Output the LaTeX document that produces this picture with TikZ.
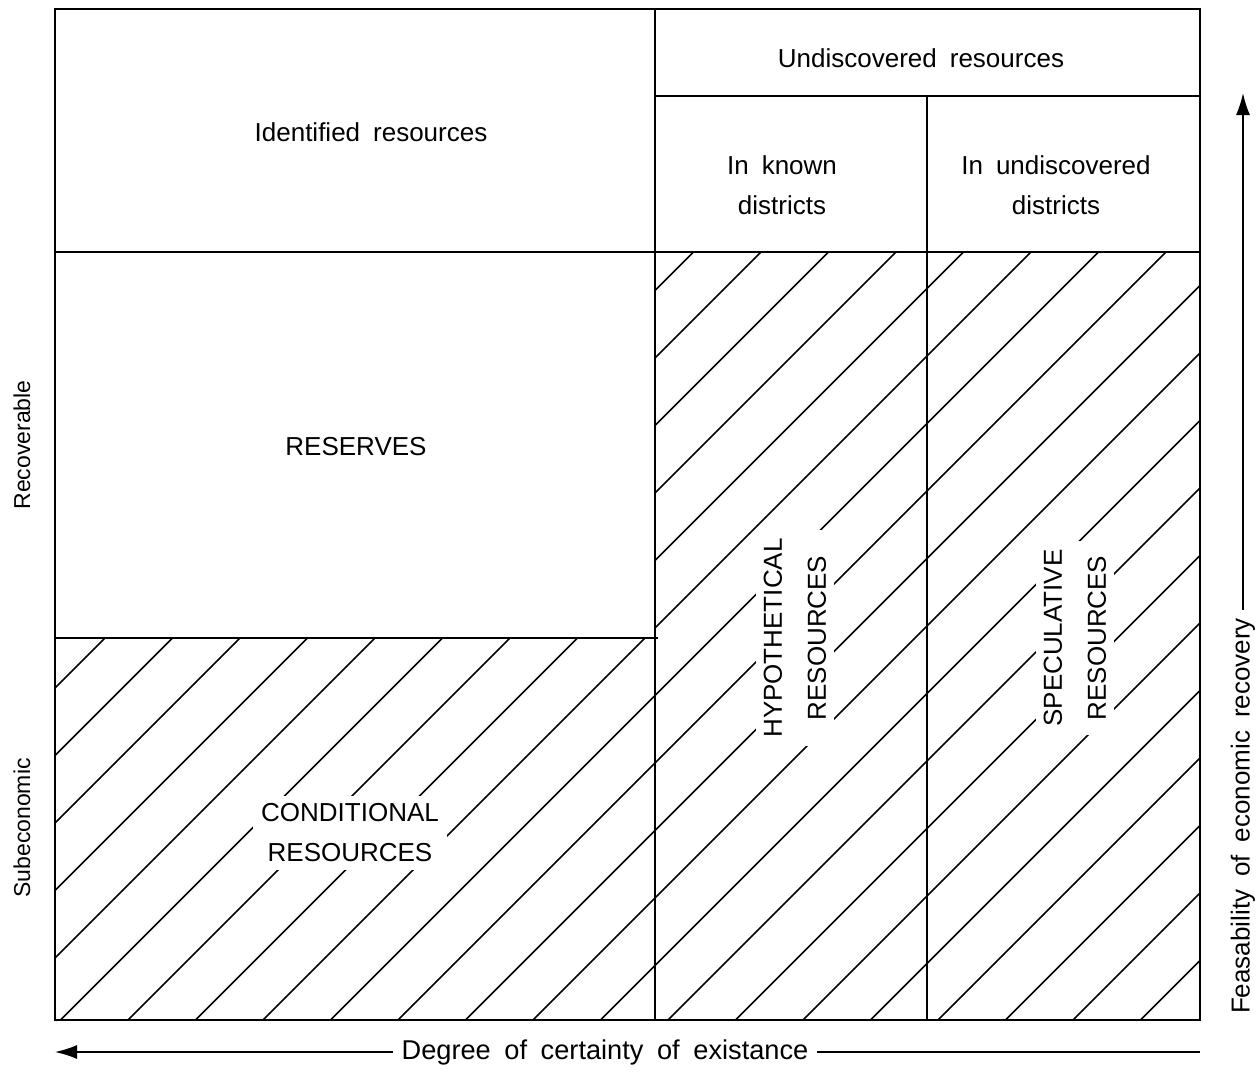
\documentclass[tikz,border=0pt]{standalone}
\usepackage{fontspec}
\setmainfont{Liberation Sans}[WordSpace=1.8]
\usepackage{tikz}
\usetikzlibrary{arrows.meta}

\begin{document}
\begin{tikzpicture}[x=0.5pt,y=0.5pt,yscale=-1,xscale=1,
  frame/.style={line width=1.3pt},
  hatch/.style={line width=0.8pt},
  lbl/.style={inner sep=4pt,align=center,font=\fontsize{13}{20}\selectfont},
  cutlbl/.style={lbl,fill=white},
  sidelbl/.style={rotate=90,inner sep=4pt,font=\fontsize{11.5}{14}\selectfont},
  axisarrow/.style={line width=0.8pt,-{Latex[length=11pt,width=7pt]}}]
\useasboundingbox (0,0) rectangle (1258,1072);

%Hatching: conditional, hypothetical, speculative
\begin{scope}
\clip (55,638) rectangle (655,1020) (655,252) rectangle (1200,1020);
\foreach \k in {-17,...,12} {
  \pgfmathsetmacro{\c}{1418+67.5*\k}
  \draw [hatch] ({\c-1100},1100) -- ({\c+100},-100);
}
\end{scope}

% Text Node
\draw (350,833) node [cutlbl] (conditional) {CONDITIONAL\\RESOURCES};
% Text Node
\draw (795,638) node [cutlbl,rotate=90,font=\fontsize{13}{22}\selectfont] (hypothetical) {HYPOTHETICAL\\RESOURCES};
% Text Node
\draw (1075,638) node [cutlbl,rotate=90,font=\fontsize{13}{22}\selectfont] (speculative) {SPECULATIVE\\RESOURCES};

%Shape: Rectangle
\draw [frame] (55,9) rectangle (1200,1020);
%Straight Lines
\draw [frame] (55,252) -- (1200,252);
\draw [frame] (655,9) -- (655,1020);
\draw [frame] (655,96) -- (1200,96);
\draw [frame] (927,96) -- (927,1020);
\draw [frame] (55,638) -- (658,638);

% Text Node
\draw (371,132) node [lbl] (identified) {Identified resources};
% Text Node
\draw (921,58) node [lbl] (undiscovered) {Undiscovered resources};
% Text Node
\draw (782,185) node [lbl] (known) {In known\\districts};
% Text Node
\draw (1056,185) node [lbl] (undistricts) {In undiscovered\\districts};
% Text Node
\draw (356,447) node [lbl] (reserves) {RESERVES};
% Text Node
\draw (22,445) node [sidelbl] (recoverable) {Recoverable};
% Text Node
\draw (22,828) node [sidelbl] (subeconomic) {Subeconomic};

%Axis: feasability
\draw (1243,816) node [lbl,rotate=90] (feasability) {Feasability of economic recovery};
\coordinate (feastop) at (1243,93);
\draw [axisarrow] (feasability.east) -- (feastop);

%Axis: certainty
\draw (605,1052) node [lbl,font=\fontsize{13.6}{20}\selectfont] (certainty) {Degree of certainty of existance};
\coordinate (certleft) at (55,1052);
\coordinate (certright) at (1200,1052);
\draw [axisarrow] (certainty.west) -- (certleft);
\draw [line width=0.8pt] (certainty.east) -- (certright);

\end{tikzpicture}
\end{document}
